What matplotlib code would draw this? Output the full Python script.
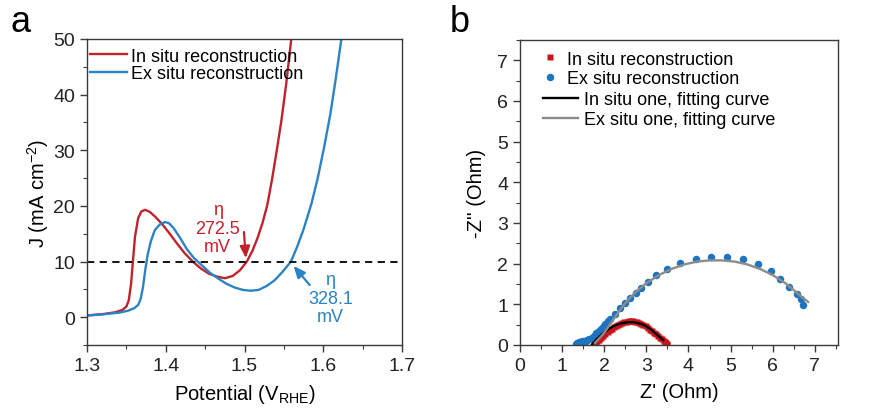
import numpy as np
import matplotlib
matplotlib.use('Agg')
import matplotlib.pyplot as plt
from matplotlib.ticker import MultipleLocator

plt.rcParams['font.family'] = ['Liberation Sans', 'DejaVu Sans']

# ---- panel a: LSV curves ----
v_in = [1.300, 1.320, 1.335, 1.345, 1.350, 1.353, 1.356, 1.358, 1.361, 1.365, 1.369,
        1.374, 1.380, 1.387, 1.395, 1.404, 1.414, 1.424, 1.435, 1.445, 1.455, 1.465,
        1.475, 1.485, 1.494, 1.503, 1.510, 1.517, 1.523, 1.529, 1.535, 1.541, 1.547,
        1.553, 1.559, 1.561]
j_in = [0.3, 0.55, 0.85, 1.3, 1.9, 3.0, 6.0, 9.5, 14.5, 17.8, 19.0,
        19.3, 18.9, 18.0, 16.8, 15.2, 13.3, 11.5, 9.9, 8.7, 7.8, 7.3,
        7.0, 7.4, 8.4, 10.0, 11.9, 14.4, 17.0, 20.2, 24.8, 30.0, 35.5,
        42.0, 49.5, 52.0]

v_ex = [1.300, 1.320, 1.340, 1.352, 1.360, 1.365, 1.368, 1.371, 1.374, 1.377, 1.381,
        1.386, 1.392, 1.399, 1.404, 1.410, 1.418, 1.427, 1.436, 1.446, 1.456, 1.466,
        1.477, 1.488, 1.498, 1.508, 1.518, 1.528, 1.538, 1.548, 1.559, 1.567, 1.575,
        1.585, 1.593, 1.601, 1.609, 1.616, 1.624]
j_ex = [0.3, 0.5, 0.8, 1.15, 1.6, 2.2, 3.2, 5.3, 8.5, 11.2, 13.6,
        15.6, 16.6, 17.1, 16.9, 16.0, 14.3, 12.2, 10.6, 9.3, 8.0, 7.0,
        6.0, 5.3, 4.9, 4.75, 4.9, 5.6, 6.6, 8.1, 10.0, 12.7, 15.8,
        20.4, 25.0, 30.5, 36.5, 43.0, 51.0]

# ---- panel b: Nyquist data ----
zr_in = [1.76, 1.80, 1.84, 1.88, 1.93, 1.98, 2.03, 2.08, 2.13, 2.18, 2.23, 2.28, 2.33,
         2.38, 2.43, 2.48, 2.53, 2.58, 2.63, 2.68, 2.73, 2.78, 2.83, 2.88, 2.93, 2.98,
         3.03, 3.08, 3.13, 3.18, 3.23, 3.28, 3.33, 3.38, 3.42, 3.45, 3.47, 3.48, 3.49]
zi_in = [0.02, 0.05, 0.09, 0.13, 0.18, 0.22, 0.27, 0.32, 0.36, 0.40, 0.43, 0.46, 0.49,
         0.52, 0.54, 0.56, 0.57, 0.58, 0.58, 0.58, 0.57, 0.56, 0.54, 0.52, 0.49, 0.46,
         0.42, 0.38, 0.34, 0.30, 0.26, 0.22, 0.18, 0.14, 0.11, 0.08, 0.05, 0.03, 0.01]

zr_ex = [1.32, 1.36, 1.40, 1.44, 1.48, 1.52, 1.56, 1.60, 1.65, 1.70, 1.76, 1.81, 1.87,
         1.92, 1.97, 2.03, 2.08, 2.13, 2.25, 2.37, 2.49, 2.61, 2.75, 2.88, 3.03, 3.24,
         3.49, 3.79, 4.17, 4.53, 4.91, 5.30, 5.64, 5.95, 6.18, 6.38, 6.57, 6.68, 6.73]
zi_ex = [0.03, 0.05, 0.07, 0.08, 0.09, 0.10, 0.11, 0.12, 0.14, 0.17, 0.23, 0.29, 0.35,
         0.40, 0.45, 0.52, 0.58, 0.64, 0.76, 0.90, 1.03, 1.15, 1.28, 1.40, 1.56, 1.72,
         1.88, 2.02, 2.11, 2.17, 2.17, 2.11, 1.98, 1.82, 1.62, 1.42, 1.25, 1.12, 0.98]

fit_in_x = [1.70, 1.80, 1.90, 2.00, 2.10, 2.20, 2.30, 2.40, 2.50, 2.60, 2.70, 2.80,
            2.90, 3.00, 3.10, 3.20, 3.30, 3.40]
fit_in_y = [0.00, 0.12, 0.22, 0.31, 0.39, 0.45, 0.50, 0.53, 0.55, 0.56, 0.56, 0.54,
            0.51, 0.46, 0.39, 0.30, 0.21, 0.12]

fit_ex_x = [1.78, 1.90, 2.00, 2.20, 2.40, 2.60, 2.80, 3.00, 3.30, 3.60, 3.90, 4.20,
            4.50, 4.80, 5.10, 5.40, 5.70, 6.00, 6.30, 6.50, 6.70, 6.84]
fit_ex_y = [0.05, 0.18, 0.30, 0.60, 0.90, 1.15, 1.35, 1.52, 1.72, 1.87, 1.98, 2.05,
            2.08, 2.08, 2.05, 1.98, 1.87, 1.72, 1.52, 1.35, 1.17, 1.06]

red = '#c0232d'
blue = '#2a83c4'
red_m = '#c8141c'
blue_m = '#1f74c0'
frame = '#3a3a3a'

fig = plt.figure(figsize=(8.83, 4.14), dpi=100)
ax1 = fig.add_axes([0.0985, 0.1643, 0.3568, 0.7391])
ax2 = fig.add_axes([0.5889, 0.1643, 0.3601, 0.7367])

for ax in (ax1, ax2):
    for s in ax.spines.values():
        s.set_color(frame)
        s.set_linewidth(1.0)
    ax.tick_params(which='both', direction='out', color=frame, labelsize=14,
                   top=False, right=False, labelcolor='#222222')
    ax.tick_params(which='major', length=5, width=1.0)
    ax.tick_params(which='minor', length=3, width=0.8)

# panel a
ax1.plot(v_in, j_in, color=red, lw=1.7, label='In situ reconstruction')
ax1.plot(v_ex, j_ex, color=blue, lw=1.7, label='Ex situ reconstruction')
ax1.axhline(10, color='black', lw=1.3, ls=(0, (4, 3)))
ax1.set_xlim(1.3, 1.7)
ax1.set_ylim(-5, 50)
ax1.xaxis.set_major_locator(MultipleLocator(0.1))
ax1.xaxis.set_minor_locator(MultipleLocator(0.05))
ax1.yaxis.set_major_locator(MultipleLocator(10))
ax1.yaxis.set_minor_locator(MultipleLocator(5))
ax1.set_xlabel('Potential (V$_{\\mathregular{RHE}}$)', fontsize=14.5, labelpad=6)
ax1.set_ylabel('J (mA cm$^{\\mathregular{-2}}$)', fontsize=14.5, labelpad=2)
ax1.legend(loc='upper left', bbox_to_anchor=(0.01, 0.972), frameon=False,
           fontsize=13, handlelength=2.05, handletextpad=0.2, borderpad=0,
           borderaxespad=0, labelspacing=0.05)

ax1.text(1.466, 16.0, '\u03b7\n272.5\nmV', color=red, fontsize=13,
         ha='center', va='center', linespacing=1.1)
ax1.annotate('', xy=(1.502, 10.1), xytext=(1.499, 15.8),
             arrowprops=dict(arrowstyle='-|>,head_length=0.7,head_width=0.3',
                             color=red, lw=1.6))
ax1.text(1.609, 3.4, '\u03b7\n328.1\nmV', color=blue, fontsize=13,
         ha='center', va='center', linespacing=1.1)
ax1.annotate('', xy=(1.560, 9.6), xytext=(1.585, 5.4),
             arrowprops=dict(arrowstyle='-|>,head_length=0.7,head_width=0.3',
                             color=blue, lw=1.6))

# panel b
h1, = ax2.plot(zr_in, zi_in, 's', color=red_m, ms=4.4, mec='none',
               label='In situ reconstruction')
h2, = ax2.plot(zr_ex, zi_ex, 'o', color=blue_m, ms=5.4, mec='none',
               label='Ex situ reconstruction')
h3, = ax2.plot(fit_in_x, fit_in_y, color='black', lw=1.7,
               label='In situ one, fitting curve')
h4, = ax2.plot(fit_ex_x, fit_ex_y, color='#8c8c8c', lw=1.7,
               label='Ex situ one, fitting curve')
ax2.set_xlim(0, 7.55)
ax2.set_ylim(0, 7.5)
ax2.xaxis.set_major_locator(MultipleLocator(1))
ax2.xaxis.set_minor_locator(MultipleLocator(0.5))
ax2.yaxis.set_major_locator(MultipleLocator(1))
ax2.yaxis.set_minor_locator(MultipleLocator(0.5))
ax2.set_xlabel("Z' (Ohm)", fontsize=14.5, labelpad=6)
ax2.set_ylabel("-Z'' (Ohm)", fontsize=14.5, labelpad=8)

leg1 = ax2.legend(handles=[h1, h2], loc='upper left', bbox_to_anchor=(0.069, 0.965),
                  frameon=False, fontsize=13, handlelength=0.9, handletextpad=0.48,
                  borderpad=0, borderaxespad=0, labelspacing=0.15)
ax2.add_artist(leg1)
ax2.legend(handles=[h3, h4], loc='upper left', bbox_to_anchor=(0.072, 0.832),
           frameon=False, fontsize=13, handlelength=1.95, handletextpad=0.33,
           borderpad=0, borderaxespad=0, labelspacing=0.15)

fig.text(0.023, 0.945, 'a', fontsize=26, ha='center', va='center')
fig.text(0.521, 0.945, 'b', fontsize=26, ha='center', va='center')

fig.savefig('out.png', dpi=100)
